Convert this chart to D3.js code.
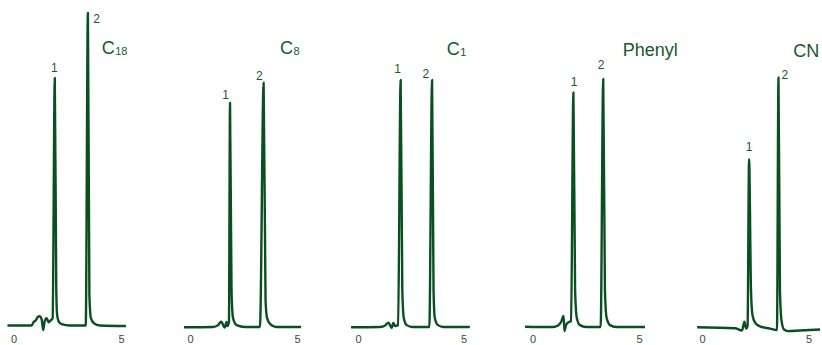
<!DOCTYPE html>
<html>
<head>
<meta charset="utf-8">
<script src="https://cdn.jsdelivr.net/npm/d3@7"></script>
<style>
  html, body { margin: 0; padding: 0; background: #fff; }
  svg { display: block; }
  text { font-family: "Liberation Sans", Arial, sans-serif; }
</style>
</head>
<body>
<svg id="chart" width="822" height="345"></svg>
<script>
// ---------------- data ----------------
const columns = ["C18", "C8", "C1", "Phenyl", "CN"];
const titleMain = ["C", "C", "C", "Phenyl", "CN"];
const titleSub = ["18", "8", "1", "", ""];
const peakNames = ["1", "2"];
const tickValues = [0, 5];            // minutes

// chromatogram traces: [time (min), relative signal]
const traceC18 = [[-0.28,0.5],[0.84,0.5],[0.93,1.5],[1.03,2.1],[1.12,3.1],[1.21,3.4],[1.31,2.4],[1.38,-1.0],[1.45,1.8],[1.54,2.8],[1.64,1.5],[1.73,2.1],[1.82,2.8],[1.92,79.3],[1.99,11.8],[2.03,3.8],[2.10,1.8],[2.24,0.9],[2.62,0.5],[3.36,0.5],[3.46,100],[3.53,10.2],[3.60,2.8],[3.74,1.2],[4.02,0.5],[5.23,0.3]];
const traceC8 = [[-0.28,-0.1],[1.07,0],[1.31,0.6],[1.46,1.7],[1.62,-0.2],[1.71,1.6],[1.75,0.3],[1.82,1.6],[1.87,71.4],[1.94,11.8],[2.01,2.9],[2.18,0.6],[2.57,0],[3.27,0],[3.44,77.8],[3.53,8.6],[3.60,2.9],[3.74,1.0],[4.02,0],[5.19,0]];
const traceC1 = [[-0.33,-0.1],[1.05,0],[1.29,0.5],[1.44,1.4],[1.60,-0.3],[1.67,1.3],[1.76,0.3],[1.90,0.6],[2.02,78.7],[2.10,11.8],[2.17,2.9],[2.31,0.6],[2.57,0],[3.38,0],[3.51,78.7],[3.58,11.8],[3.64,2.9],[3.79,0.6],[4.05,0],[5.30,0]];
const tracePhenyl = [[-0.35,0.1],[0.96,0],[1.20,0.5],[1.34,1.6],[1.46,3.5],[1.50,-1.3],[1.57,0.6],[1.71,1.6],[1.81,1.9],[1.92,74.7],[2.00,11.8],[2.08,2.9],[2.23,0.6],[2.51,0],[3.20,0],[3.32,79],[3.40,11.8],[3.48,2.9],[3.64,0.6],[3.92,0],[5.28,0]];
const traceCN = [[-0.23,-0.1],[1.55,-0.4],[1.88,-1.1],[1.99,1.7],[2.07,-0.5],[2.14,0.3],[2.21,53.4],[2.30,11.8],[2.37,3.8],[2.49,1.4],[2.72,0.2],[3.19,-0.5],[3.52,-1.0],[3.59,79.5],[3.66,11.8],[3.73,2.2],[3.85,-0.8],[4.04,-1.3],[4.60,-1.1],[5.54,-0.8]];
const traces = [traceC18, traceC8, traceC1, tracePhenyl, traceCN];

// ---------------- layout (positions / styles) ----------------
const panelRange = [[13.5,121],[190,297],[358,463.5],[532.5,639],[702,808.5]];
const titlePos = [[101.7,53.5],[280,53.5],[446.7,55],[622.7,56],[793.3,56.5]];
const labelOffset = [
  [[-0.5,-6.3],[8.6,9.7]],
  [[-4.5,-3.4],[-4.2,-2.7]],
  [[-3,-6.7],[-6.2,-1.7]],
  [[0.7,-6.3],[-2,-9.7]],
  [[0,-8.6],[6.5,2]]
];
const lineColor = "#0a4f1f";
const textColor = "#165a2b";
const tickColor = "#344c3b";

const svg = d3.select("#chart");
const y = d3.scaleLinear().domain([0, 100]).range([327, 13]);

columns.forEach((name, i) => {
  const x = d3.scaleLinear().domain([0, 5]).range(panelRange[i]);
  const g = svg.append("g").attr("class", "panel-" + name);
  const data = traces[i];

  // axis (tick labels only)
  const axis = d3.axisBottom(x).tickValues(tickValues).tickSize(0).tickPadding(5).tickFormat(d3.format("d"));
  const ag = g.append("g").attr("transform", "translate(0,330)").call(axis);
  ag.select(".domain").remove();
  ag.selectAll("text").attr("fill", tickColor).style("font-size", "11px")
    .style("font-family", '"Liberation Sans", Arial, sans-serif');

  // trace
  const line = d3.line().x(d => x(d[0])).y(d => y(d[1])).curve(d3.curveMonotoneX);
  g.append("path").datum(data).attr("d", line)
    .attr("fill", "none").attr("stroke", lineColor)
    .attr("stroke-width", 2.4).attr("stroke-linejoin", "round").attr("stroke-linecap", "butt");

  // peak labels (apex of each peak in the trace)
  const early = data.filter(d => d[0] < 2.8);
  const late = data.filter(d => d[0] >= 2.8);
  const apexes = [early, late].map(arr => arr.reduce((a, b) => (b[1] > a[1] ? b : a)));
  apexes.forEach((p, k) => {
    g.append("text")
      .attr("x", x(p[0]) + labelOffset[i][k][0])
      .attr("y", y(p[1]) + labelOffset[i][k][1])
      .attr("text-anchor", "middle")
      .attr("fill", textColor)
      .style("font-size", "12px")
      .text(peakNames[k]);
  });

  // column title
  const t = g.append("text")
    .attr("x", titlePos[i][0]).attr("y", titlePos[i][1])
    .attr("fill", textColor).style("font-size", "18px");
  t.append("tspan").text(titleMain[i]);
  if (titleSub[i]) {
    t.append("tspan").attr("dy", 1).attr("dx", 0.5).style("font-size", "11px").text(titleSub[i]);
  }
});
</script>
</body>
</html>
